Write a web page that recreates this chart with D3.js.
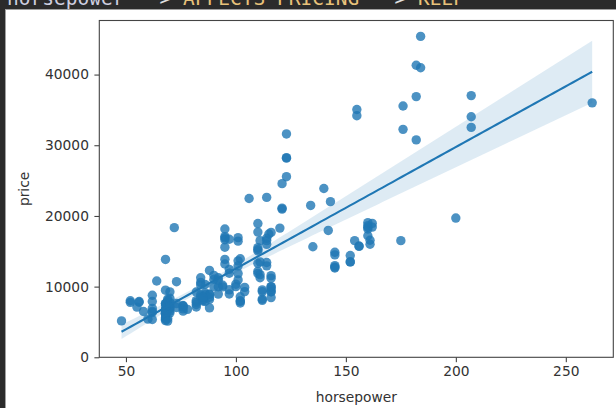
<!DOCTYPE html>
<html>
<head>
<meta charset="utf-8">
<script src="https://cdn.jsdelivr.net/npm/d3@7"></script>
<style>
  body { margin: 0; background: #2b2b2b; }
  svg { display: block; }
  text { font-family: "DejaVu Sans", sans-serif; }
</style>
</head>
<body>
<svg id="chart" width="616" height="408"></svg>
<script>
// Automobile data: engine horsepower and list price, one entry per car.
const horsepower = [
  111, 111, 154, 102, 115, 110, 110, 110, 140,
  101, 101, 121, 121, 121, 182, 182, 182,
  48, 70, 70,
  68, 68, 102, 68, 68, 68, 102, 88, 145,
  58, 76, 60, 76, 76, 76, 76, 86, 86, 86, 86, 101, 100,
  78, 90,
  176, 176, 262,
  68, 68, 68, 68, 68, 101, 101, 101, 135, 84, 84, 84, 84, 64, 84, 120, 72,
  123, 123, 123, 123, 155, 155, 184, 184,
  175,
  68, 68, 68, 102, 116, 88, 145, 145, 145, 88, 88, 116, 116,
  69, 55, 69, 69, 69, 69, 69, 69, 69, 69, 97, 97, 152, 152, 152, 160, 200, 160,
  97, 95, 97, 95, 95, 95, 97, 95, 95, 142, 95,
  68, 102, 68, 68, 68, 88, 145,
  143, 207, 207, 207,
  104, 104,
  110, 110, 110, 110, 160, 160,
  69, 73, 73, 82, 82, 94, 82, 111, 82, 94, 82, 111,
  62, 62, 62, 62, 62, 62, 70, 70, 56, 56, 70, 70, 70, 112, 112, 112, 112,
  116, 116, 116, 116, 116, 116, 92, 73, 92, 92, 92, 161, 161, 156, 156,
  52, 85, 52, 85, 85, 68, 100, 90, 90, 110, 68, 88,
  114, 114, 114, 114, 162, 162, 114, 160, 134, 106, 114
];

const price = [
  13495, 16500, 16500, 13950, 17450, 15250, 17710, 18920, 23875,
  16430, 16925, 20970, 21105, 24565, 30760, 41315, 36880,
  5151, 6295, 6575,
  5572, 6377, 7957, 6229, 6692, 7609, 8558, 8921, 12964,
  6479, 6855, 5399, 6529, 7129, 7295, 7295, 7895, 9095, 8845, 10295, 12945, 10345,
  6785, 11048,
  32250, 35550, 36000,
  5195, 6095, 6795, 6695, 7395, 10945, 11845, 13645, 15645, 8845, 8495, 10595, 10245, 10795, 11245, 18280, 18344,
  25552, 28248, 28176, 31600, 34184, 35056, 40960, 45400,
  16503,
  5389, 6189, 6669, 7689, 9959, 8499, 12629, 14869, 14489, 6989, 8189, 9279, 9279,
  5499, 7099, 6649, 6849, 7349, 7299, 7799, 7499, 7999, 8249, 8949, 9549, 13499, 14399, 13499, 17199, 19699, 18399,
  11900, 13200, 12440, 13860, 15580, 16900, 16695, 17075, 16630, 17950, 18150,
  5572, 7957, 6229, 6692, 7609, 8921, 12764,
  22018, 32528, 34028, 37028,
  9295, 9895,
  11850, 12170, 15040, 15510, 18150, 18620,
  5118, 7053, 7603, 7126, 7775, 9960, 9233, 11259, 7463, 10198, 8013, 11694,
  5348, 6338, 6488, 6918, 7898, 8778, 6938, 7198, 7898, 7788, 7738, 8358, 9258, 8058, 8238, 9298, 9538,
  8449, 9639, 9989, 11199, 11549, 17669, 8948, 10698, 9988, 10898, 11248, 16558, 15998, 15690, 15750,
  7775, 7975, 7995, 8195, 8495, 9495, 9995, 11595, 9980, 13295, 13845, 12290,
  12940, 13415, 15985, 16515, 18420, 18950, 16845, 19045, 21485, 22470, 22625
];

const xTicks = [50, 100, 150, 200, 250];
const yTicks = [0, 10000, 20000, 30000, 40000];

const xLabel = "horsepower";
const yLabel = "price";
const headerParts = [
  { text: "horsepower ", color: "#cfcfe0" },
  { text: "--> ", color: "#e0e0e0" },
  { text: "AFFECTS PRICING ", color: "#e8c27a" },
  { text: "--> ", color: "#e0e0e0" },
  { text: "KEEP", color: "#e8c27a" }
];

const svg = d3.select("#chart");
const W = 616, H = 408;
const plot = { left: 99.3, right: 613.3, top: 20.5, bottom: 357.3 };
const blue = "#1f77b4";

// Header strip of the notebook cell, clipped by the output panel below it
svg.append("rect").attr("width", W).attr("height", H).attr("fill", "#2b2b2b");
const header = svg.append("text")
  .attr("x", 7).attr("y", 5)
  .style("font-family", "'DejaVu Sans Mono', monospace")
  .style("font-size", "19.5px");
headerParts.forEach(p => header.append("tspan").attr("fill", p.color).text(p.text));

// White output panel with its thin grey edge
svg.append("rect").attr("x", 5).attr("y", 9).attr("width", W - 5).attr("height", H - 9).attr("fill", "#a0a0a0");
svg.append("rect").attr("x", 6).attr("y", 10).attr("width", W - 6).attr("height", H - 10).attr("fill", "#ffffff");

// Scales
const x = d3.scaleLinear().domain([37.9, 271.6]).range([plot.left, plot.right]);
const y = d3.scaleLinear().domain([0, 47650]).range([plot.bottom, plot.top]);

// Least-squares fit with a robust (sandwich) 95% band for the mean prediction
const n = horsepower.length;
const mx = d3.mean(horsepower), my = d3.mean(price);
let sxx = 0, sxy = 0;
for (let i = 0; i < n; i++) {
  sxx += (horsepower[i] - mx) ** 2;
  sxy += (horsepower[i] - mx) * (price[i] - my);
}
const slope = sxy / sxx;
const intercept = my - slope * mx;
let m00 = 0, m01 = 0, m11 = 0;
for (let i = 0; i < n; i++) {
  const d = horsepower[i] - mx;
  const e = price[i] - (intercept + slope * horsepower[i]);
  m00 += e * e; m01 += e * e * d; m11 += e * e * d * d;
}
const v00 = m00 / (n * n), v01 = m01 / (n * sxx), v11 = m11 / (sxx * sxx);
const [xMin, xMax] = d3.extent(horsepower);
const grid = d3.range(100).map(i => xMin + (xMax - xMin) * i / 99);
const fit = grid.map(g => {
  const yhat = intercept + slope * g;
  const dg = g - mx;
  const se = Math.sqrt(v00 + 2 * dg * v01 + dg * dg * v11);
  return { x: g, y: yhat, lo: yhat - 1.96 * se, hi: yhat + 1.96 * se };
});

const body = svg.append("g");
body.append("clipPath").attr("id", "plotclip")
  .append("rect").attr("x", plot.left).attr("y", plot.top)
  .attr("width", plot.right - plot.left).attr("height", plot.bottom - plot.top);
const inner = body.append("g").attr("clip-path", "url(#plotclip)");

// Scatter of cars
inner.append("g").selectAll("circle")
  .data(horsepower.map((h, i) => ({ h, p: price[i] })))
  .join("circle")
  .attr("cx", d => x(d.h))
  .attr("cy", d => y(d.p))
  .attr("r", 4.7)
  .attr("fill", blue)
  .attr("fill-opacity", 0.8);

// Confidence band
inner.append("path")
  .datum(fit)
  .attr("d", d3.area().x(d => x(d.x)).y0(d => y(d.lo)).y1(d => y(d.hi)))
  .attr("fill", blue)
  .attr("fill-opacity", 0.15);

// Regression line
inner.append("path")
  .datum(fit)
  .attr("d", d3.line().x(d => x(d.x)).y(d => y(d.y)))
  .attr("fill", "none")
  .attr("stroke", blue)
  .attr("stroke-width", 2.1);

// Axes
const tickColor = "#333";
const xAxis = svg.append("g")
  .attr("transform", `translate(0,${plot.bottom})`)
  .call(d3.axisBottom(x).tickValues(xTicks).tickFormat(d3.format("d")).tickSize(4.9).tickPadding(4.5));
const yAxis = svg.append("g")
  .attr("transform", `translate(${plot.left},0)`)
  .call(d3.axisLeft(y).tickValues(yTicks).tickFormat(d3.format("d")).tickSize(4.9).tickPadding(5.5));
[xAxis, yAxis].forEach(a => {
  a.select(".domain").remove();
  a.selectAll(".tick line").attr("stroke", tickColor).attr("stroke-width", 1);
  a.selectAll(".tick text").attr("fill", tickColor).style("font-size", "13.8px").style("font-family", "'DejaVu Sans', sans-serif");
});

// Frame of the axes
svg.append("rect")
  .attr("x", plot.left).attr("y", plot.top)
  .attr("width", plot.right - plot.left).attr("height", plot.bottom - plot.top)
  .attr("fill", "none").attr("stroke", "#444").attr("stroke-width", 1.1);

// Axis titles
svg.append("text")
  .attr("x", (plot.left + plot.right) / 2).attr("y", 402)
  .attr("text-anchor", "middle").attr("fill", tickColor)
  .style("font-size", "13.8px").text(xLabel);
svg.append("text")
  .attr("transform", `translate(29,${(plot.top + plot.bottom) / 2}) rotate(-90)`)
  .attr("text-anchor", "middle").attr("fill", tickColor)
  .style("font-size", "13.8px").text(yLabel);
</script>
</body>
</html>
